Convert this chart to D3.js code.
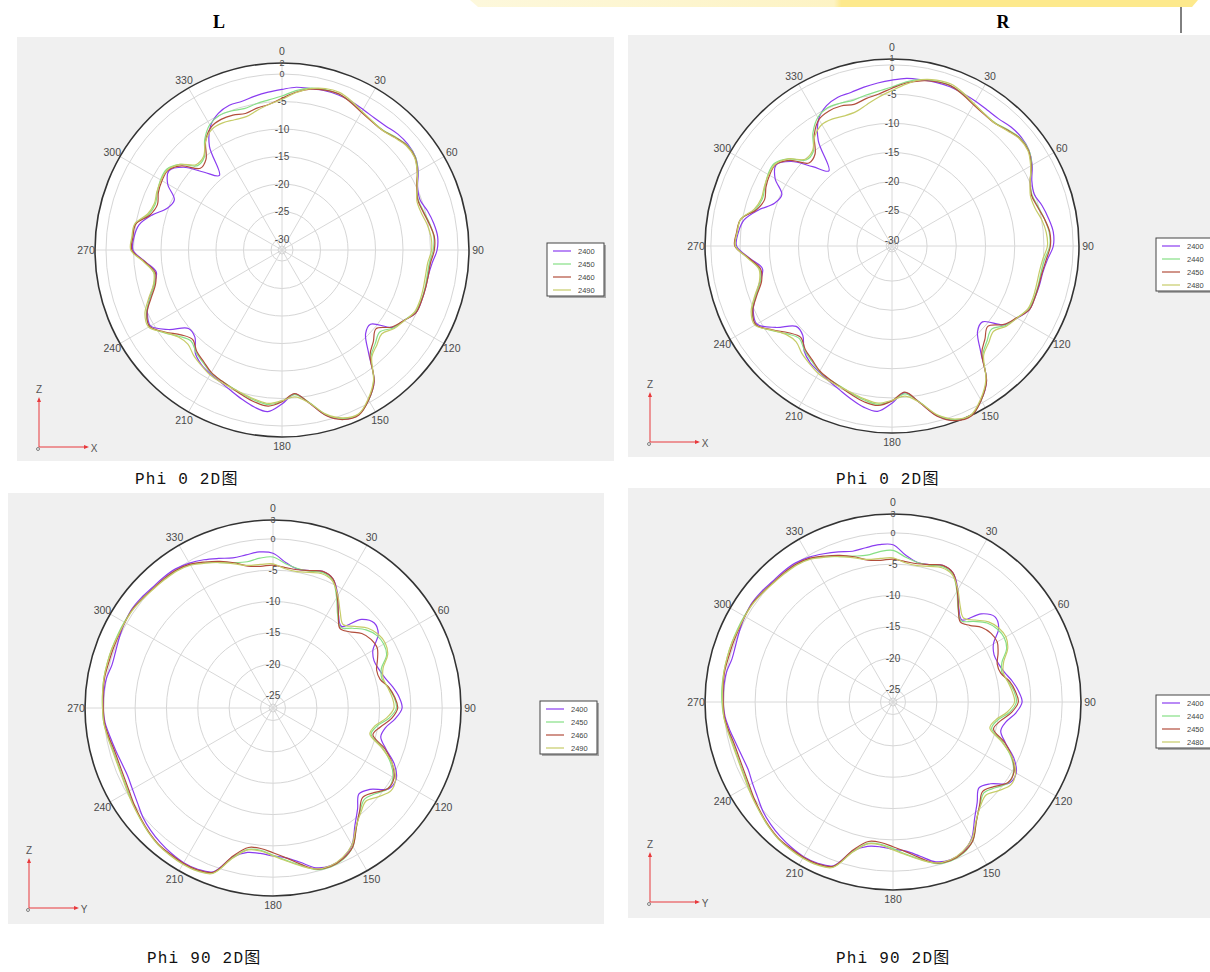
<!DOCTYPE html>
<html>
<head>
<meta charset="utf-8">
<script src="https://cdn.jsdelivr.net/npm/d3@7"></script>
<style>
body{margin:0;background:#fff}
</style>
</head>
<body>
<svg id="chart"></svg>
<script>
// angle of every sample, degrees (0 = top, clockwise)
const angles = [0,5,10,15,20,25,30,35,40,45,50,55,60,65,70,75,80,85,90,95,100,105,110,115,
  120,125,130,135,140,145,150,155,160,165,170,175,180,185,190,195,200,205,210,215,220,225,230,235,
  240,245,250,255,260,265,270,275,280,285,290,295,300,305,310,315,320,325,330,335,340,345,350,355];
const angleTicks = [0,30,60,90,120,150,180,210,240,270,300,330];

const ticksL0 = [2,0,-5,-10,-15,-20,-25,-30];
const ticksR0 = [1,0,-5,-10,-15,-20,-25,-30];
const ticksP90 = [3,0,-5,-10,-15,-20,-25];

const legendL = ["2400","2450","2460","2490"];
const legendR = ["2400","2440","2450","2480"];
const captions = ["Phi 0 2D图","Phi 0 2D图","Phi 90 2D图","Phi 90 2D图"];

// L, phi 0 (dB)
const l0_2400 = [-2.8,-2.3,-2.2,-2.0,-2.0,-2.2,-2.5,-2.7,-2.6,-2.2,-2.1,-2.4,-3.4,-4.8,-5.3,-4.6,-4.0,-3.6,
  -3.8,-4.6,-5.0,-5.0,-5.0,-5.1,-6.4,-7.5,-11.0,-10.5,-7.5,-2.8,-0.5,1.0,0.7,-0.9,-3.8,-5.7,
  -4.0,-2.5,-3.0,-3.9,-4.8,-5.5,-6.0,-6.5,-7.5,-9.6,-9.8,-6.8,-4.4,-5.0,-6.4,-7.9,-8.8,-7.1,
  -4.9,-5.0,-5.6,-7.5,-9.8,-10.4,-8.0,-6.9,-8.6,-12.0,-14.3,-9.0,-6.0,-4.6,-4.0,-4.0,-3.6,-3.2];
const l0_2450 = [-4.0,-2.9,-2.1,-1.8,-1.8,-2.3,-3.0,-3.4,-3.5,-2.9,-2.3,-2.4,-3.5,-5.0,-5.6,-5.3,-4.7,-4.3,
  -4.5,-5.1,-5.2,-5.1,-5.1,-5.3,-6.4,-7.3,-8.8,-8.0,-6.8,-2.9,-0.5,1.0,0.6,-1.0,-3.9,-5.6,
  -4.5,-3.8,-4.2,-4.8,-5.4,-5.8,-6.2,-7.0,-7.7,-8.6,-7.6,-5.8,-4.2,-4.8,-6.5,-8.0,-8.4,-6.9,
  -4.6,-4.7,-4.9,-6.9,-7.5,-7.0,-6.5,-6.4,-7.8,-10.3,-10.0,-7.5,-5.7,-5.0,-5.1,-5.4,-5.0,-4.6];
const l0_2460 = [-4.4,-3.2,-2.3,-1.9,-1.8,-2.4,-3.1,-3.5,-3.6,-3.0,-2.4,-2.5,-3.6,-5.0,-5.7,-5.4,-4.8,-4.2,
  -4.3,-4.9,-5.0,-5.0,-5.0,-5.1,-6.4,-7.6,-9.7,-8.5,-7.1,-2.8,-0.5,1.1,0.8,-0.8,-3.8,-5.8,
  -4.4,-3.5,-3.9,-4.6,-5.3,-5.8,-6.3,-7.2,-7.9,-9.0,-8.0,-6.0,-4.2,-4.9,-6.7,-8.2,-8.6,-7.0,
  -4.7,-4.8,-5.0,-7.2,-7.9,-7.2,-6.8,-6.7,-8.2,-11.0,-10.5,-7.8,-6.2,-5.8,-5.9,-6.3,-5.8,-5.4];
const l0_2490 = [-4.6,-3.3,-2.2,-1.6,-1.5,-2.1,-2.9,-3.4,-3.6,-3.1,-2.5,-2.6,-3.6,-4.9,-5.9,-5.8,-5.2,-4.8,
  -4.8,-5.4,-5.5,-5.4,-5.3,-5.4,-6.3,-7.1,-8.3,-7.6,-6.6,-3.0,-0.7,0.9,0.5,-1.1,-3.8,-5.2,
  -4.6,-4.0,-4.4,-4.9,-5.3,-5.5,-5.8,-6.4,-7.0,-7.8,-7.4,-5.9,-4.0,-4.5,-6.2,-7.8,-8.3,-6.8,
  -4.5,-4.6,-4.8,-6.7,-7.3,-6.9,-6.6,-6.6,-7.8,-10.0,-9.8,-7.8,-6.6,-6.5,-6.8,-6.9,-6.2,-5.4];

// R, phi 0 (dB)
const r0_2400 = [-2.6,-2.2,-2.1,-2.0,-2.0,-2.2,-2.4,-2.6,-2.6,-2.2,-2.1,-2.4,-3.3,-4.6,-5.1,-4.4,-3.8,-3.3,
  -3.4,-4.3,-4.8,-4.9,-5.0,-5.1,-6.3,-7.5,-10.8,-10.3,-7.4,-2.8,-0.5,1.0,0.7,-0.9,-3.8,-5.8,
  -4.1,-2.6,-3.0,-3.9,-4.8,-5.5,-6.1,-6.6,-7.6,-9.4,-9.6,-6.7,-4.3,-4.8,-6.2,-7.6,-8.5,-6.6,
  -4.4,-4.6,-5.3,-7.3,-9.6,-10.2,-7.9,-6.8,-8.5,-11.8,-14.2,-9.0,-5.9,-4.5,-3.9,-3.8,-3.4,-3.0];
const r0_2440 = [-3.8,-2.8,-2.1,-1.8,-1.8,-2.3,-3.0,-3.4,-3.5,-2.9,-2.3,-2.4,-3.4,-4.9,-5.5,-5.1,-4.5,-4.0,
  -4.0,-4.8,-5.1,-5.1,-5.1,-5.3,-6.4,-7.3,-8.8,-8.0,-6.8,-2.9,-0.5,1.0,0.6,-1.0,-3.9,-5.6,
  -4.5,-3.8,-4.2,-4.8,-5.4,-5.8,-6.2,-7.0,-7.7,-8.6,-7.6,-5.8,-4.1,-4.6,-6.2,-7.7,-8.0,-6.4,
  -4.2,-4.4,-4.7,-6.8,-7.4,-7.0,-6.5,-6.4,-7.8,-10.2,-10.0,-7.4,-5.6,-4.9,-5.0,-5.2,-4.8,-4.4];
const r0_2450 = [-4.0,-3.0,-2.3,-1.9,-1.8,-2.4,-3.1,-3.5,-3.6,-3.0,-2.4,-2.5,-3.5,-4.9,-5.6,-5.2,-4.5,-3.9,
  -3.9,-4.5,-4.9,-5.0,-5.0,-5.1,-6.4,-7.6,-9.6,-8.5,-7.1,-2.8,-0.5,1.1,0.8,-0.8,-3.8,-5.9,
  -4.5,-3.6,-3.9,-4.6,-5.3,-5.8,-6.3,-7.2,-7.9,-8.9,-7.9,-6.0,-4.1,-4.7,-6.4,-7.9,-8.2,-6.5,
  -4.1,-4.3,-4.7,-7.0,-7.8,-7.2,-6.8,-6.7,-8.2,-10.9,-10.5,-7.8,-6.0,-5.5,-5.5,-5.9,-5.4,-4.9];
const r0_2480 = [-4.4,-3.2,-2.1,-1.6,-1.5,-2.1,-2.9,-3.4,-3.6,-3.1,-2.5,-2.6,-3.6,-4.9,-5.8,-5.7,-5.0,-4.5,
  -4.4,-5.1,-5.4,-5.4,-5.3,-5.4,-6.3,-7.1,-8.3,-7.6,-6.6,-3.0,-0.7,0.9,0.5,-1.1,-3.8,-5.2,
  -4.6,-4.0,-4.4,-4.9,-5.3,-5.5,-5.8,-6.4,-7.0,-7.8,-7.4,-5.9,-3.9,-4.4,-6.0,-7.5,-7.9,-6.3,
  -4.2,-4.4,-4.7,-6.6,-7.2,-6.9,-6.6,-6.6,-7.8,-10.0,-9.8,-8.0,-7.0,-7.0,-7.3,-7.2,-6.4,-5.4];

// L, phi 90 (dB)
const l90_2400 = [-2.3,-3.7,-4.5,-4.3,-3.8,-4.3,-6.3,-8.8,-10.0,-7.0,-5.9,-6.5,-8.6,-9.2,-9.0,-8.5,-7.6,-6.8,
  -6.4,-7.4,-8.8,-9.2,-7.8,-5.6,-4.3,-4.5,-6.8,-7.6,-6.0,-4.2,-1.8,-0.6,-0.2,-0.6,-2.0,-3.0,
  -3.4,-3.7,-3.6,-2.4,0.8,1.4,1.5,1.3,1.0,0.6,0.1,-0.6,-1.1,-1.4,-1.3,-1.0,-0.6,-0.1,
  0.1,0.1,0.0,-0.4,-0.3,0.0,0.3,0.5,0.4,0.2,0.2,0.1,-0.3,-0.9,-1.6,-2.2,-2.2,-2.0];
const l90_2450 = [-2.9,-3.9,-4.4,-4.4,-4.0,-4.5,-6.7,-9.0,-10.2,-9.0,-7.6,-6.8,-6.6,-7.0,-8.6,-9.0,-8.3,-7.6,
  -7.3,-8.4,-10.2,-10.8,-8.4,-6.3,-4.9,-4.6,-5.7,-6.4,-5.4,-3.8,-1.5,-0.4,0.0,-0.3,-1.5,-2.6,
  -3.5,-4.2,-4.1,-2.3,1.0,1.6,1.7,1.6,1.5,1.1,0.6,0.1,-0.3,-0.6,-0.7,-0.6,-0.3,0.1,
  0.2,0.3,0.4,0.4,0.4,0.4,0.4,0.4,0.2,0.0,-0.1,-0.2,-0.6,-1.4,-2.3,-3.0,-3.3,-3.0];
const l90_2460 = [-4.2,-4.5,-4.6,-4.3,-3.8,-4.3,-6.5,-8.8,-10.4,-9.8,-8.5,-7.9,-7.8,-8.6,-9.4,-9.3,-8.2,-7.5,
  -7.1,-8.0,-9.6,-10.5,-8.0,-6.0,-4.7,-4.6,-6.0,-6.8,-5.5,-3.8,-1.5,-0.5,-0.1,-0.4,-1.7,-3.0,
  -3.9,-4.5,-4.4,-2.6,0.9,1.5,1.6,1.5,1.4,1.0,0.5,0.0,-0.5,-0.8,-0.9,-0.8,-0.4,0.0,
  0.1,0.2,0.3,0.2,0.2,0.2,0.3,0.4,0.2,0.0,0.0,-0.1,-0.5,-1.3,-2.1,-3.0,-4.0,-4.3];
const l90_2490 = [-4.0,-4.7,-4.9,-4.6,-4.2,-4.6,-6.3,-8.3,-9.6,-8.6,-7.2,-6.5,-6.3,-6.8,-8.3,-8.8,-8.4,-7.9,
  -7.7,-8.8,-10.5,-11.0,-8.6,-6.0,-4.4,-4.0,-5.0,-6.0,-5.2,-3.9,-1.8,-0.7,-0.2,-0.4,-1.4,-2.5,
  -3.4,-4.1,-4.0,-2.2,1.1,1.7,1.8,1.7,1.5,1.1,0.6,0.2,-0.2,-0.5,-0.6,-0.5,-0.2,0.1,
  0.2,0.3,0.4,0.4,0.4,0.3,0.3,0.3,0.1,-0.1,-0.2,-0.3,-0.7,-1.5,-2.3,-3.2,-3.9,-4.0];

// R, phi 90 (dB)
const r90_2400 = [-1.9,-3.5,-4.4,-4.3,-3.8,-4.3,-6.3,-8.7,-9.9,-7.1,-5.8,-6.4,-8.5,-9.2,-9.1,-8.6,-7.7,-6.9,
  -6.4,-7.3,-8.7,-9.2,-7.9,-5.7,-4.3,-4.4,-6.7,-7.6,-6.1,-4.3,-1.9,-0.6,-0.2,-0.6,-2.0,-3.1,
  -3.5,-3.8,-3.6,-2.4,0.8,1.4,1.5,1.3,1.0,0.6,0.1,-0.6,-1.1,-1.5,-1.4,-1.1,-0.6,-0.1,
  0.1,0.1,0.0,-0.4,-0.3,0.0,0.3,0.5,0.4,0.2,0.2,0.1,-0.3,-0.9,-1.5,-2.1,-2.0,-1.8];
const r90_2440 = [-2.8,-3.8,-4.4,-4.4,-4.0,-4.5,-6.6,-8.9,-10.1,-8.8,-7.4,-6.7,-6.5,-7.0,-8.5,-9.0,-8.3,-7.6,
  -7.3,-8.3,-10.1,-10.7,-8.4,-6.2,-4.8,-4.5,-5.7,-6.5,-5.4,-3.8,-1.5,-0.4,0.0,-0.3,-1.5,-2.6,
  -3.6,-4.2,-4.1,-2.3,1.0,1.6,1.7,1.6,1.5,1.1,0.6,0.1,-0.3,-0.6,-0.7,-0.6,-0.3,0.1,
  0.3,0.4,0.4,0.4,0.4,0.4,0.4,0.4,0.2,0.0,-0.1,-0.2,-0.6,-1.4,-2.3,-2.9,-3.2,-2.9];
const r90_2450 = [-4.2,-4.5,-4.6,-4.3,-3.8,-4.3,-6.5,-8.8,-10.3,-9.7,-8.5,-7.9,-7.8,-8.5,-9.3,-9.2,-8.1,-7.4,
  -7.0,-8.0,-9.6,-10.4,-8.0,-6.0,-4.7,-4.6,-6.0,-6.8,-5.5,-3.8,-1.5,-0.5,-0.1,-0.4,-1.7,-3.0,
  -3.9,-4.5,-4.4,-2.6,0.9,1.5,1.6,1.5,1.4,1.0,0.5,0.0,-0.5,-0.8,-0.9,-0.8,-0.4,0.0,
  0.1,0.2,0.3,0.2,0.2,0.2,0.3,0.4,0.2,0.0,0.0,-0.1,-0.5,-1.3,-2.1,-3.0,-4.0,-4.3];
const r90_2480 = [-4.0,-4.7,-4.9,-4.6,-4.2,-4.6,-6.3,-8.3,-9.5,-8.5,-7.1,-6.4,-6.2,-6.8,-8.2,-8.8,-8.4,-7.9,
  -7.6,-8.7,-10.4,-11.0,-8.6,-6.0,-4.4,-4.0,-5.0,-6.0,-5.3,-3.9,-1.8,-0.7,-0.2,-0.4,-1.4,-2.5,
  -3.4,-4.1,-4.0,-2.2,1.1,1.7,1.8,1.7,1.5,1.1,0.6,0.2,-0.2,-0.5,-0.6,-0.5,-0.2,0.1,
  0.2,0.3,0.4,0.4,0.4,0.3,0.3,0.3,0.1,-0.1,-0.2,-0.3,-0.7,-1.5,-2.3,-3.2,-3.9,-4.0];

const lineColors = ["#8a3cf0","#86e086","#b24e3c","#c6cc68"];

const W = 1210, H = 972;
const svg = d3.select("#chart").attr("width", W).attr("height", H);

// faint yellow band at the very top
const grad = svg.append("defs").append("linearGradient").attr("id","band");
grad.append("stop").attr("offset","0%").attr("stop-color","#fdf8dc");
grad.append("stop").attr("offset","50%").attr("stop-color","#fdf3c4");
grad.append("stop").attr("offset","51%").attr("stop-color","#fde98c");
grad.append("stop").attr("offset","100%").attr("stop-color","#fde98c");
svg.append("path").attr("d","M470,0 L1198,0 L1192,7 L478,7 Z").attr("fill","url(#band)");

// column titles
svg.append("text").attr("x",219).attr("y",28).attr("text-anchor","middle")
  .attr("font-family","Liberation Serif, serif").attr("font-weight","bold").attr("font-size",18).text("L");
svg.append("text").attr("x",1003).attr("y",28).attr("text-anchor","middle")
  .attr("font-family","Liberation Serif, serif").attr("font-weight","bold").attr("font-size",18).text("R");
svg.append("line").attr("x1",1181).attr("x2",1181).attr("y1",7).attr("y2",33).attr("stroke","#000");

const angleScale = d3.scaleLinear().domain([0,360]).range([0, 2*Math.PI]);

function drawPolar(c){
  const g = svg.append("g");
  g.append("rect").attr("x",c.panel[0]).attr("y",c.panel[1])
    .attr("width",c.panel[2]).attr("height",c.panel[3]).attr("fill","#f0f0f0");

  const r = d3.scaleLinear().domain(c.domain).range([0, c.R]);
  const gp = g.append("g").attr("transform",`translate(${c.cx},${c.cy})`);

  gp.append("circle").attr("r",c.R).attr("fill","#fff");

  // grid rings
  gp.selectAll(".ring").data(c.ticks.slice(1)).join("circle")
    .attr("class","ring").attr("r",d=>r(d))
    .attr("fill","none").attr("stroke","#d6d6d6");
  gp.append("circle").attr("r",4).attr("fill","none").attr("stroke","#d0d0d0");

  // spokes
  gp.selectAll(".spoke").data(angleTicks).join("line")
    .attr("class","spoke")
    .attr("x1",0).attr("y1",0)
    .attr("x2",d=>c.R*Math.sin(angleScale(d)))
    .attr("y2",d=>-c.R*Math.cos(angleScale(d)))
    .attr("stroke","#d8d8d8");

  // outer ring
  gp.append("circle").attr("r",c.R).attr("fill","none").attr("stroke","#333").attr("stroke-width",1.6);

  // angle labels
  gp.selectAll(".alab").data(angleTicks).join("text")
    .attr("class","alab")
    .attr("x",d=>(c.R+(d===0?12:9))*Math.sin(angleScale(d)))
    .attr("y",d=>-(c.R+(d===0?12:9))*Math.cos(angleScale(d)))
    .attr("text-anchor","middle").attr("dominant-baseline","central")
    .attr("font-family","Liberation Sans, Arial, sans-serif").attr("font-size",10.5)
    .attr("fill","#4a4a4a").text(d=>d);

  // radial labels (the outermost one sits on the dark ring, a little lifted when crowded)
  const gap = r(c.ticks[0]) - r(c.ticks[1]);
  gp.selectAll(".rlab").data(c.ticks).join("text")
    .attr("class","rlab")
    .attr("x",0).attr("y",(d,i)=>-r(d) + (i===1 && gap<10 ? 3 : 0) - (i===0 && gap<10 ? 1 : 0))
    .attr("text-anchor","middle").attr("dominant-baseline","central")
    .attr("font-family","Liberation Sans, Arial, sans-serif").attr("font-size",(d,i)=>i<2?9:10)
    .attr("fill","#4a4a4a").text(d=>d);

  // curves
  const line = d3.lineRadial()
    .angle((d,i)=>angleScale(angles[i]))
    .radius(d=>r(d))
    .curve(d3.curveCatmullRomClosed.alpha(0.5));
  c.series.forEach((s,i)=>{
    gp.append("path").attr("d",line(s)).attr("fill","none")
      .attr("stroke",lineColors[i]).attr("stroke-width",1.2);
  });

  // legend
  const lg = g.append("g").attr("transform",`translate(${c.legend[0]},${c.legend[1]})`);
  lg.append("rect").attr("x",2).attr("y",2).attr("width",57).attr("height",53).attr("fill","#a8a8a8");
  lg.append("rect").attr("width",57).attr("height",53).attr("fill","#fff").attr("stroke","#444");
  c.names.forEach((n,i)=>{
    lg.append("line").attr("x1",6).attr("x2",24).attr("y1",8+i*13).attr("y2",8+i*13)
      .attr("stroke",lineColors[i]).attr("stroke-width",1.2);
    lg.append("text").attr("x",31).attr("y",8+i*13).attr("dominant-baseline","central")
      .attr("font-family","Liberation Sans, Arial, sans-serif").attr("font-size",7.5)
      .attr("fill","#444").text(n);
  });

  // coordinate indicator
  const [ax, ay] = c.axis;
  const ind = g.append("g");
  ind.append("line").attr("x1",ax).attr("x2",ax).attr("y1",ay).attr("y2",ay-48).attr("stroke","#e8393c");
  ind.append("line").attr("x1",ax).attr("x2",ax+48).attr("y1",ay).attr("y2",ay).attr("stroke","#e8393c");
  ind.append("path").attr("d",`M${ax-2},${ay-45} L${ax},${ay-50} L${ax+2},${ay-45} Z`).attr("fill","#e8393c");
  ind.append("path").attr("d",`M${ax+45},${ay-2} L${ax+50},${ay} L${ax+45},${ay+2} Z`).attr("fill","#e8393c");
  ind.append("circle").attr("cx",ax-1).attr("cy",ay+2).attr("r",1.5).attr("fill","none").attr("stroke","#666").attr("stroke-width",0.8);
  ind.append("text").attr("x",ax).attr("y",ay-58).attr("text-anchor","middle").attr("dominant-baseline","central")
    .attr("font-family","Liberation Sans, Arial, sans-serif").attr("font-size",10).attr("fill","#555").text("Z");
  ind.append("text").attr("x",ax+55).attr("y",ay+1).attr("text-anchor","middle").attr("dominant-baseline","central")
    .attr("font-family","Liberation Sans, Arial, sans-serif").attr("font-size",10).attr("fill","#555").text(c.axisName);

  // caption under the panel
  svg.append("text").attr("x",c.caption[0]).attr("y",c.caption[1])
    .attr("font-family","Liberation Mono, DejaVu Sans Mono, 'Noto Sans CJK SC', monospace")
    .attr("font-size",16).attr("letter-spacing",1.2).attr("fill","#111").text(c.text);
}

drawPolar({panel:[17,37,597,424], cx:282, cy:250, R:187, domain:[-32,2], ticks:ticksL0,
  series:[l0_2400,l0_2450,l0_2460,l0_2490], names:legendL, legend:[547,243],
  axis:[39,447], axisName:"X", caption:[135,484], text:captions[0]});
drawPolar({panel:[628,35,582,422], cx:892, cy:246, R:187, domain:[-31,1], ticks:ticksR0,
  series:[r0_2400,r0_2440,r0_2450,r0_2480], names:legendR, legend:[1156,238],
  axis:[650,442], axisName:"X", caption:[836,484], text:captions[1]});
drawPolar({panel:[8,493,596,431], cx:273, cy:708, R:188, domain:[-27,3], ticks:ticksP90,
  series:[l90_2400,l90_2450,l90_2460,l90_2490], names:legendL, legend:[540,701],
  axis:[29,908], axisName:"Y", caption:[147,963], text:captions[2]});
drawPolar({panel:[628,488,582,430], cx:893, cy:702, R:188, domain:[-27,3], ticks:ticksP90,
  series:[r90_2400,r90_2440,r90_2450,r90_2480], names:legendR, legend:[1156,695],
  axis:[650,902], axisName:"Y", caption:[836,963], text:captions[3]});
</script>
</body>
</html>
